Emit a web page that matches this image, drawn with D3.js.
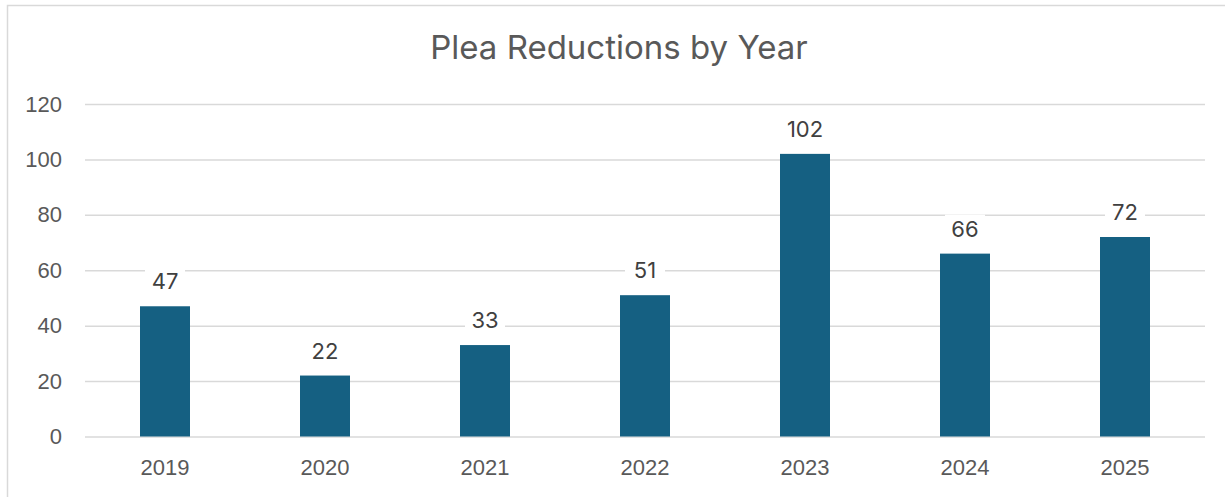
<!DOCTYPE html>
<html>
<head>
<meta charset="utf-8">
<script src="https://cdn.jsdelivr.net/npm/d3@7"></script>
<style>
  body { margin: 0; background: #fff; }
  #container svg { display: block; font-family: Inter, "Liberation Sans", sans-serif; }
</style>
</head>
<body>
<div id="container"></div>
<script>
const years = ['2019', '2020', '2021', '2022', '2023', '2024', '2025'];
const reductions = [47, 22, 33, 51, 102, 66, 72];
const yTicks = [0, 20, 40, 60, 80, 100, 120];

const width = 1225;
const height = 497;
const margin = { top: 104, right: 20, bottom: 61, left: 85 };
const innerW = 1205 - margin.left;
const innerH = 436.5 - margin.top;

const svg = d3.select('#container')
	.append('svg')
	.attr('width', width)
	.attr('height', height);

// chart frame (right and bottom edges fall outside the picture)
svg.append('rect')
	.attr('x', 7.5)
	.attr('y', 5.5)
	.attr('width', 1240)
	.attr('height', 520)
	.attr('fill', '#fff')
	.attr('stroke', '#d9d9d9')
	.attr('stroke-width', 1.5);

svg.append('text')
	.attr('x', 619)
	.attr('y', 59)
	.attr('text-anchor', 'middle')
	.attr('fill', '#595959')
	.style('font-size', '33px')
	.text('Plea Reductions by Year');

const g = svg.append('g')
	.attr('transform', `translate(${margin.left},${margin.top})`);

const x = d3.scaleBand()
	.domain(years)
	.range([0, innerW])
	.paddingInner(0.6875)
	.paddingOuter(0.34375);

const y = d3.scaleLinear()
	.domain([0, 120])
	.range([innerH, 0]);

// gridlines
g.append('g')
	.attr('class', 'grid')
	.call(d3.axisLeft(y).tickValues(yTicks).tickSize(-innerW).tickFormat(''))
	.call(s => s.select('.domain').remove())
	.call(s => s.selectAll('line').attr('stroke', '#d9d9d9').attr('stroke-width', 1.5));

// y axis labels
g.append('g')
	.attr('class', 'y-axis')
	.call(d3.axisLeft(y).tickValues(yTicks).tickSize(0).tickPadding(23))
	.call(s => s.select('.domain').remove())
	.call(s => s.selectAll('text').attr('fill', '#595959').style('font-size', '22px').style('font-family', 'inherit'));

// x axis labels
g.append('g')
	.attr('class', 'x-axis')
	.attr('transform', `translate(0,${innerH})`)
	.call(d3.axisBottom(x).tickSize(0).tickPadding(23))
	.call(s => s.select('.domain').remove())
	.call(s => s.selectAll('text').attr('fill', '#595959').style('font-size', '22px').style('font-family', 'inherit'));

// bars
g.selectAll('.bar')
	.data(reductions)
	.join('rect')
	.attr('class', 'bar')
	.attr('x', (d, i) => x(years[i]))
	.attr('y', d => y(d))
	.attr('width', x.bandwidth())
	.attr('height', d => innerH - y(d))
	.attr('fill', '#156082');

// data labels with white backing
const labels = g.selectAll('.label')
	.data(reductions)
	.join('g')
	.attr('class', 'label')
	.attr('transform', (d, i) => `translate(${x(years[i]) + x.bandwidth() / 2},${y(d) - 17})`);

labels.append('rect')
	.attr('x', d => -(String(d).length * 7 + 6))
	.attr('y', -22)
	.attr('width', d => String(d).length * 14 + 12)
	.attr('height', 29)
	.attr('fill', '#fff');

labels.append('text')
	.attr('text-anchor', 'middle')
	.attr('fill', '#404040')
	.style('font-size', '22px')
	.text(d => d);
</script>
</body>
</html>
